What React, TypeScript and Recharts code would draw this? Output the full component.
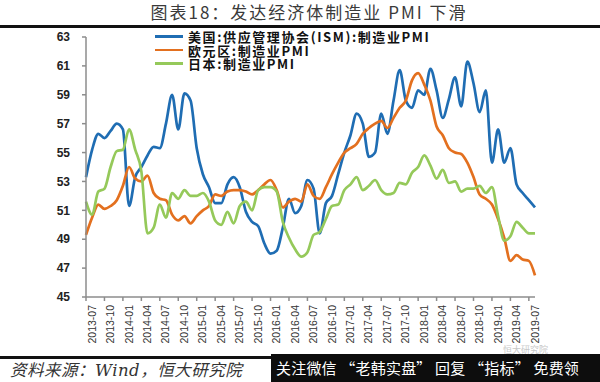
import { Line, LineChart, XAxis, YAxis } from "recharts"

// monthly, 2013-06 .. 2019-07
const months: string[] = []
for (let y = 2013; y <= 2019; y++) {
  for (let m = 1; m <= 12; m++) {
    if (y === 2013 && m < 6) continue
    if (y === 2019 && m > 7) continue
    months.push(`${y}-${m < 10 ? "0" + m : m}`)
  }
}

const usIsm = [
  53.3, 55.2, 56.3, 56.0, 56.5, 57.0, 56.6, 51.3, 53.3, 54.0,
  54.8, 55.4, 55.3, 57.0, 59.0, 56.6, 59.1, 58.6, 55.3, 53.5,
  52.6, 51.5, 51.5, 52.8, 53.3, 52.6, 50.9, 50.2, 49.9, 48.7,
  48.0, 48.2, 49.8, 51.8, 50.8, 51.3, 53.1, 52.5, 49.4, 51.5,
  52.0, 53.5, 55.0, 56.2, 57.7, 57.0, 54.7, 55.0, 57.7, 56.3,
  58.6, 60.7, 58.6, 58.1, 59.3, 59.0, 60.8, 59.3, 57.4, 58.7,
  60.2, 58.2, 61.3, 59.8, 57.8, 59.3, 54.3, 56.6, 54.3, 55.3,
  52.8, 52.2, 51.7, 51.2,
]

const euroPmi = [
  49.3, 50.5, 51.4, 51.1, 51.3, 51.7, 52.7, 54.0, 53.2, 53.0,
  53.4, 52.2, 51.8, 51.7, 50.7, 50.3, 50.6, 50.1, 50.6, 51.0,
  51.3, 52.1, 52.0, 52.3, 52.4, 52.4, 52.3, 52.1, 52.4, 52.8,
  53.1, 52.4, 51.2, 51.6, 51.8, 51.6, 52.8, 52.0, 51.8, 52.6,
  53.5, 54.3, 55.0, 55.3, 55.6, 56.3, 56.7, 57.0, 57.2, 56.7,
  57.4, 58.1, 58.6, 60.0, 60.5, 59.7, 58.6, 56.8, 56.2, 55.3,
  55.0, 54.9, 54.3, 53.3, 52.1, 51.8, 51.4, 50.4, 49.1, 47.5,
  47.9, 47.6, 47.5, 46.5,
]

const japanPmi = [
  51.6, 50.7, 52.3, 52.5, 54.0, 55.1, 55.2, 56.6, 55.2, 53.7,
  49.4, 49.8, 51.4, 50.5, 52.2, 51.8, 52.4, 52.0, 52.0, 52.2,
  51.6, 50.3, 50.0, 50.9, 50.1, 51.3, 51.6, 51.0, 52.4, 52.6,
  52.6, 52.3, 50.2, 49.1, 48.3, 47.8, 48.1, 49.3, 49.5, 50.4,
  51.3, 51.4, 52.4, 52.8, 53.3, 52.4, 52.7, 53.1, 52.4, 52.1,
  52.2, 52.9, 52.8, 53.6, 54.0, 54.8, 54.1, 53.2, 53.8, 52.9,
  53.0, 52.3, 52.5, 52.5, 52.7, 52.2, 52.6, 50.6, 48.9, 49.2,
  50.2, 49.8, 49.4, 49.4,
]

const yTicks = [45, 47, 49, 51, 53, 55, 57, 59, 61, 63]

const seriesInfo = [
  { key: "us", name: "美国:供应管理协会(ISM):制造业PMI", color: "#1f6db3" },
  { key: "euro", name: "欧元区:制造业PMI", color: "#e3701f" },
  { key: "japan", name: "日本:制造业PMI", color: "#95c95a" },
]

const data = months.map((month, i) => ({
  month,
  us: usIsm[i],
  euro: euroPmi[i],
  japan: japanPmi[i],
}))

const AXIS_GREY = "#8c8c8c"

function MonthTick(props: any) {
  const { x, y, payload } = props
  const idx: number = props.index ?? payload.index
  return (
    <g>
      {idx % 3 === 0 && (
        <line x1={x} y1={y} x2={x} y2={y + 4} stroke={AXIS_GREY} strokeWidth={1.5} />
      )}
      {idx % 3 === 1 && (
        <text
          x={0}
          y={0}
          transform={`translate(${x + 3.5},${y + 8}) rotate(-90)`}
          textAnchor="end"
          fontSize={10.5}
          fontFamily="Liberation Sans, Arial, sans-serif"
          fill="#333"
        >
          {payload.value}
        </text>
      )}
    </g>
  )
}

export default function App() {
  return (
    <div
      style={{
        position: "absolute",
        left: 0,
        top: 0,
        width: 600,
        height: 382,
        background: "#fff",
        overflow: "hidden",
        fontFamily: "'Noto Sans CJK SC', sans-serif",
      }}
    >
      <div
        style={{
          position: "absolute",
          left: 0,
          width: 600,
          boxSizing: "border-box",
          paddingLeft: 18,
          top: 1,
          textAlign: "center",
          fontSize: 17,
          letterSpacing: 2,
          color: "#3a3a3a",
          lineHeight: "21px",
          whiteSpace: "nowrap",
        }}
      >
        图表18：发达经济体制造业 PMI 下滑
      </div>
      <div style={{ position: "absolute", left: 0, top: 25, width: 600, height: 3, background: "#111" }} />

      <LineChart
        width={600}
        height={382}
        data={data}
        margin={{ top: 37, right: 65, bottom: 35, left: 40 }}
      >
        <XAxis
          dataKey="month"
          interval={0}
          tickSize={0}
          tickMargin={0}
          height={50}
          tick={<MonthTick />}
          axisLine={{ stroke: AXIS_GREY, strokeWidth: 1.5 }}
        />
        <YAxis
          domain={[45, 63]}
          ticks={yTicks}
          width={46}
          tickSize={4}
          tickMargin={12}
          axisLine={{ stroke: AXIS_GREY, strokeWidth: 1.5 }}
          tickLine={{ stroke: AXIS_GREY, strokeWidth: 1.5 }}
          tick={{ fontSize: 12, fill: "#222", fontFamily: "Liberation Sans, Arial, sans-serif", fontWeight: 600 }}
        />
        {seriesInfo.map((s) => (
          <Line
            key={s.key}
            type="monotone"
            dataKey={s.key}
            name={s.name}
            stroke={s.color}
            strokeWidth={2.7}
            dot={false}
            isAnimationActive={false}
          />
        ))}
      </LineChart>

      <div style={{ position: "absolute", left: 155, top: 30 }}>
        {seriesInfo.map((s) => (
          <div key={s.key} style={{ display: "flex", alignItems: "center", height: 13.4 }}>
            <span style={{ display: "inline-block", width: 28, height: 2.6, background: s.color, marginRight: 5 }} />
            <span style={{ fontSize: 13, fontWeight: 700, letterSpacing: 1.6, color: "#111", lineHeight: "13px" }}>
              {s.name}
            </span>
          </div>
        ))}
      </div>

      <div style={{ position: "absolute", left: 503, top: 343, fontSize: 9, color: "#c8c8c8" }}>恒大研究院</div>

      <div style={{ position: "absolute", left: 0, top: 356, width: 272, height: 3, background: "#111" }} />
      <div
        style={{
          position: "absolute",
          left: 10,
          top: 361,
          fontSize: 16.5,
          letterSpacing: 0.5,
          fontStyle: "italic",
          color: "#333",
          fontFamily: "'DejaVu Serif', 'Noto Sans CJK SC', serif",
          lineHeight: "20px",
          whiteSpace: "nowrap",
        }}
      >
        资料来源：Wind，恒大研究院
      </div>
      <div
        style={{
          position: "absolute",
          left: 271,
          top: 354,
          width: 329,
          height: 28,
          background: "#0d0d0d",
          color: "#fff",
          fontSize: 15,
          lineHeight: "28px",
          paddingLeft: 5,
          boxSizing: "border-box",
          whiteSpace: "nowrap",
          letterSpacing: 0.2,
        }}
      >
        关注微信 “老韩实盘” 回复 “指标” 免费领
      </div>
    </div>
  )
}
